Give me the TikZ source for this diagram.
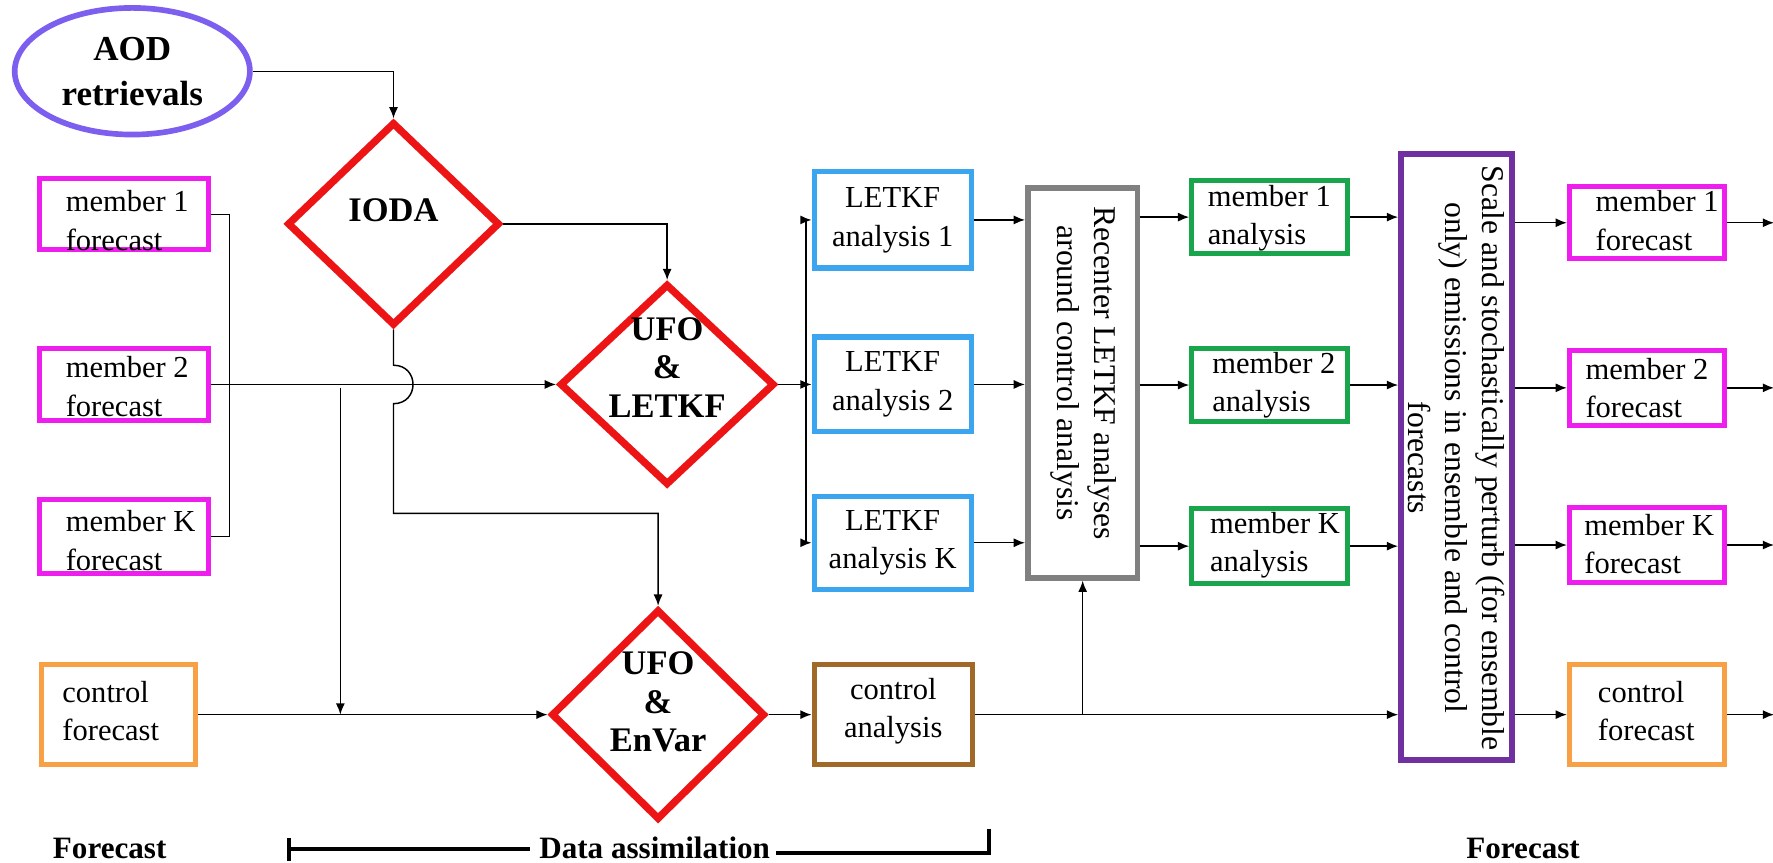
\documentclass[tikz,border=0pt]{standalone}
\usepackage{fontspec}
\setmainfont{Liberation Serif}
\newfontfamily\tnr{Liberation Serif}
\usetikzlibrary{shapes.geometric,arrows.meta}
\definecolor{magc}{RGB}{238,30,238}
\definecolor{aodc}{RGB}{125,95,240}
\definecolor{redc}{RGB}{236,20,20}
\definecolor{bluec}{RGB}{59,165,240}
\definecolor{grayc}{RGB}{128,128,128}
\definecolor{greenc}{RGB}{25,165,75}
\definecolor{purpc}{RGB}{112,48,160}
\definecolor{orc}{RGB}{248,160,70}
\definecolor{brc}{RGB}{160,105,40}
\begin{document}
\begin{tikzpicture}[x=1pt,y=-1pt,
  arr/.style={-{Latex[length=10pt,width=8pt]}, line width=1.3pt},
  ln/.style={line width=1.3pt},
  box/.style={draw=#1, line width=4.5pt, inner sep=0pt, rectangle},
  dia/.style={diamond, draw=redc, line width=6.5pt, inner sep=0pt},
  txt/.style={font=\tnr\fontsize{27}{34}\selectfont, align=left, inner sep=0pt},
  ctxt/.style={font=\tnr\fontsize{27}{34}\selectfont, align=center, inner sep=0pt},
  btxt/.style={font=\tnr\fontsize{30.5}{34}\selectfont\bfseries, align=center, inner sep=0pt},
  ltxt/.style={font=\tnr\fontsize{27.5}{34}\selectfont\bfseries, inner sep=0pt},
  rtxt/.style={font=\tnr\fontsize{28}{33}\selectfont, align=center, rotate=-90, inner sep=0pt}
]
\useasboundingbox (0,0) rectangle (1568,763);

% ellipse
\node[ellipse, draw=aodc, line width=5pt, minimum width=208pt, minimum height=112pt, inner sep=0pt,
  font=\tnr\fontsize{31}{40}\selectfont\bfseries, align=center] (aod) at (117,63) {AOD\\retrievals};

% diamonds
\node[dia, minimum width=188pt, minimum height=180pt] (ioda) at (348,198) {};
\node[btxt] (iodat) at (348,186) {IODA};
\node[dia, minimum width=190pt, minimum height=178pt] (ufo1) at (590,340) {};
\node[btxt] (ufo1t) at (590,325) {UFO\\\&\\LETKF};
\node[dia, minimum width=189pt, minimum height=186pt] (envar) at (582,632) {};
\node[btxt] (envart) at (582,621) {UFO\\\&\\EnVar};

% left forecasts
\node[box=magc, minimum width=149pt, minimum height=63pt] (mf1) at (109.5,189.5) {};
\node[txt, anchor=west] (mf1t) at (58,195) {member 1\\forecast};
\node[box=magc, minimum width=149pt, minimum height=64pt] (mf2) at (109.5,340) {};
\node[txt, anchor=west] (mf2t) at (58,342) {member 2\\forecast};
\node[box=magc, minimum width=149pt, minimum height=65pt] (mfK) at (109.5,474.5) {};
\node[txt, anchor=west] (mfKt) at (58,478) {member K\\forecast};
\node[box=orc, minimum width=136pt, minimum height=88pt] (cf) at (105,632) {};
\node[txt, anchor=west] (cft) at (55,629) {control\\forecast};

% LETKF analyses
\node[box=bluec, minimum width=139pt, minimum height=85pt] (lk1) at (789.5,194.5) {};
\node[ctxt] (lk1t) at (789.5,195) {LETKF\\analysis 1};
\node[box=bluec, minimum width=139pt, minimum height=84pt] (lk2) at (789.5,340) {};
\node[ctxt] (lk2t) at (789.5,340) {LETKF\\analysis 2};
\node[box=bluec, minimum width=139pt, minimum height=82pt] (lkK) at (789.5,480) {};
\node[ctxt] (lkKt) at (789.5,480) {LETKF\\analysis K};

% control analysis
\node[box=brc, minimum width=140pt, minimum height=88pt] (ca) at (790,632) {};
\node[ctxt] (cat) at (790,629) {control\\analysis};

% recenter
\node[box=grayc, line width=5pt, minimum width=97pt, minimum height=345pt] (rec) at (957.5,338.5) {};
\node[rtxt] (rect) at (958,330) {Recenter LETKF analyses\\around control analysis};

% member analyses
\node[box=greenc, minimum width=138pt, minimum height=64pt] (gr1) at (1123,192) {};
\node[txt, anchor=west] (gr1t) at (1068,193) {member 1\\analysis};
\node[box=greenc, minimum width=138pt, minimum height=65pt] (gr2) at (1123,340.5) {};
\node[txt, anchor=west] (gr2t) at (1072,340.5) {member 2\\analysis};
\node[box=greenc, minimum width=138pt, minimum height=66pt] (grK) at (1123,483) {};
\node[txt, anchor=west] (grKt) at (1070,482) {member K\\analysis};

% purple
\node[box=purpc, line width=5pt, minimum width=98pt, minimum height=536pt] (purp) at (1288,404) {};
\node[rtxt] (purpt) at (1288,405) {Scale and stochastically perturb (for ensemble\\only) emissions in ensemble and control\\forecasts};

% right forecasts
\node[box=magc, minimum width=137pt, minimum height=64pt] (rf1) at (1456.5,197) {};
\node[txt, anchor=west] (rf1t) at (1411,195) {member 1\\forecast};
\node[box=magc, minimum width=137pt, minimum height=66pt] (rf2) at (1456.5,343) {};
\node[txt, anchor=west] (rf2t) at (1402,343) {member 2\\forecast};
\node[box=magc, minimum width=137pt, minimum height=66pt] (rfK) at (1456.5,482) {};
\node[txt, anchor=west] (rfKt) at (1401,481) {member K\\forecast};
\node[box=orc, minimum width=137pt, minimum height=88pt] (rcf) at (1456.5,632) {};
\node[txt, anchor=west] (rcft) at (1413,629) {control\\forecast};

% coordinates
\coordinate (brk) at (203,0);
\coordinate (vtop) at (301,343);
\coordinate (bx) at (713,0);
\coordinate (edge) at (1569,0);

% connectors
\draw[arr] (aod.east) -| (ioda.north);
\draw[arr] (ioda.east) -| (ufo1.north);
\draw[ln] (mf1.east) -- (mf1.east -| brk) -- (mfK.east -| brk) -- (mfK.east);
\draw[arr] (mf2.east) -- (ufo1.west);
\draw[arr] (vtop) -- (vtop |- cf.east);
\draw[arr] (ioda.south) -- (348,323) .. controls (371,323) and (371,357) .. (348,357) -- (348,454) -- (582,454) -- (envar.north);
\draw[arr] (cf.east) -- (envar.west);
\draw[arr] (envar.east) -- (ca.west);
\draw[ln] (ufo1.east) -- (ufo1.east -| bx);
\draw[ln] (bx |- lk1.west) -- (bx |- lkK.west);
\draw[arr] (bx |- lk1.west) -- (lk1.west);
\draw[arr] (bx |- lk2.west) -- (lk2.west);
\draw[arr] (bx |- lkK.west) -- (lkK.west);
\draw[arr] (lk1.east) -- (lk1.east -| rec.west);
\draw[arr] (lk2.east) -- (lk2.east -| rec.west);
\draw[arr] (lkK.east) -- (lkK.east -| rec.west);
\draw[arr] (ca.east) -- (ca.east -| purp.west);
\draw[arr] (rec.south |- ca.east) -- (rec.south);
\draw[arr] (rec.east |- gr1.west) -- (gr1.west);
\draw[arr] (rec.east |- gr2.west) -- (gr2.west);
\draw[arr] (rec.east |- grK.west) -- (grK.west);
\draw[arr] (gr1.east) -- (gr1.east -| purp.west);
\draw[arr] (gr2.east) -- (gr2.east -| purp.west);
\draw[arr] (grK.east) -- (grK.east -| purp.west);
\draw[arr] (purp.east |- rf1.west) -- (rf1.west);
\draw[arr] (purp.east |- rf2.west) -- (rf2.west);
\draw[arr] (purp.east |- rfK.west) -- (rfK.west);
\draw[arr] (purp.east |- rcf.west) -- (rcf.west);
\draw[arr] (rf1.east) -- (rf1.east -| edge);
\draw[arr] (rf2.east) -- (rf2.east -| edge);
\draw[arr] (rfK.east) -- (rfK.east -| edge);
\draw[arr] (rcf.east) -- (rcf.east -| edge);

% bottom labels
\node[ltxt] (fc1) at (97,750) {Forecast};
\node[ltxt] (da) at (579,750) {Data assimilation};
\node[ltxt] (fc2) at (1347,750) {Forecast};
\coordinate (bl) at (256,751);
\coordinate (br) at (875,754);
\draw[line width=3.5pt] (256,741) -- (256,761);
\draw[line width=3.5pt] (bl) -- ([xshift=-8pt]da.west |- bl);
\draw[line width=3.5pt] ([xshift=5pt]da.east |- br) -- (br);
\draw[line width=3.5pt] (875,733) -- (875,755.75);
\end{tikzpicture}
\end{document}
